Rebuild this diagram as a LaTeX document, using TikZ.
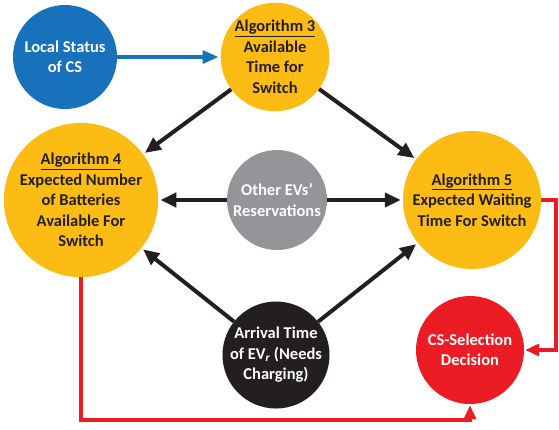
\documentclass[tikz,border=0pt]{standalone}
\usepackage{fontspec}
\setmainfont{Carlito}
\usetikzlibrary{arrows.meta}
\definecolor{cblue}{RGB}{24,113,187}
\definecolor{cyellow}{RGB}{252,188,20}
\definecolor{cgray}{RGB}{147,149,152}
\definecolor{cblack}{RGB}{35,31,32}
\definecolor{cred}{RGB}{236,28,36}
\tikzset{
  circ/.style={circle, inner sep=0pt, align=center, font=\fontsize{16.5}{20.5}\selectfont\bfseries},
  whitecirc/.style={circ, text=white},
  yellowcirc/.style={circ, fill=cyellow, text=cblack, minimum size=138pt},
  blk/.style={line width=4pt, draw=cblack, -{Triangle[length=16pt,width=14pt]}, shorten >=2pt, shorten <=0pt},
  blu/.style={line width=3.5pt, draw=cblue, -{Triangle[length=16pt,width=13pt]}, shorten >=2pt},
  redl/.style={line width=3.5pt, draw=cred, -{Triangle[length=14pt,width=12pt]}, shorten >=1pt},
}
\begin{document}
\begin{tikzpicture}[x=1pt,y=-1pt]
\useasboundingbox (0,0) rectangle (559,429);
\node[whitecirc, fill=cblue, minimum size=104pt] (loc) at (65,57) {Local Status\\of CS};
\node[yellowcirc, minimum size=106pt] (a3) at (275,57) {\underline{Algorithm 3}\\Available\\Time for\\Switch};
\node[yellowcirc] (a4) at (81,200) {\underline{Algorithm 4}\\Expected Number\\of Batteries\\Available For\\Switch};
\node[whitecirc, fill=cgray, minimum size=100pt] (oth) at (277,200) {Other EVs'\\Reservations};
\node[yellowcirc] (a5) at (472,200) {\underline{Algorithm 5}\\Expected Waiting\\Time For Switch};
\node[whitecirc, fill=cblack, minimum size=104pt] (arr) at (276,355) {Arrival Time\\of EV\textsubscript{\itshape r} (Needs\\Charging)};
\node[whitecirc, fill=cred, minimum size=108pt] (cs) at (470,350) {CS-Selection\\Decision};
\coordinate (r1) at (556,200);
\coordinate (r2) at (0,420);
\draw[blu] (loc) -- (a3);
\draw[blk] (a3) -- (a4);
\draw[blk] (a3) -- (a5);
\draw[blk] (oth) -- (a4);
\draw[blk] (oth) -- (a5);
\draw[blk] (arr) -- (a4);
\draw[blk] (arr) -- (a5);
\draw[redl] (a5.east) -- (r1) |- (cs.east);
\draw[redl] (a4.south) -- (a4.south |- r2) -| (cs.south);
\end{tikzpicture}
\end{document}
